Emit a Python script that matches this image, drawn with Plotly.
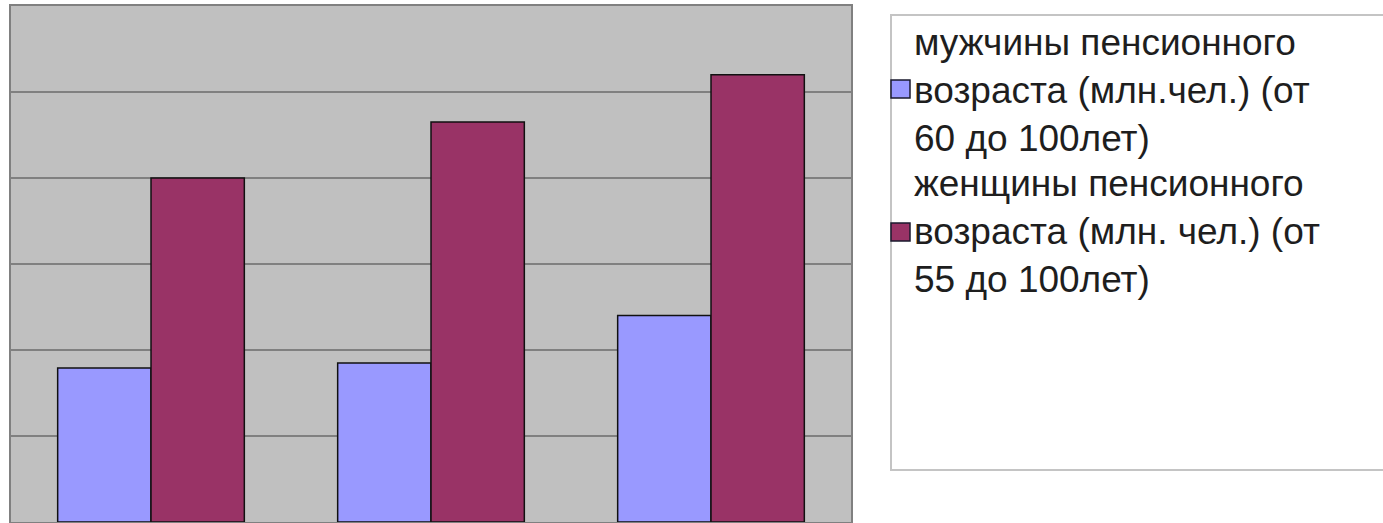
import plotly.graph_objects as go

# Data
categories = ["I", "II", "III"]
men_values = [8.95, 9.25, 12.0]
women_values = [20.0, 23.25, 26.0]
series_names = [
    "мужчины пенсионного<br>возраста (млн.чел.) (от<br>60 до 100лет)",
    "женщины пенсионного<br>возраста (млн. чел.) (от<br>55 до 100лет)",
]
series_colors = ["#9999FF", "#993366"]

W, H = 1383, 523
L, R, T, B = 11, 532, 6, 1
plot_w = W - L - R
plot_h = H - T - B


def px_to_paper_x(px):
    return (px - L) / plot_w


def px_to_paper_y(py):
    return (H - B - py) / plot_h


fig = go.Figure()
for name, vals, col in zip(series_names, [men_values, women_values], series_colors):
    fig.add_trace(go.Bar(
        x=categories, y=vals, name=name, showlegend=False,
        marker=dict(color=col, line=dict(color="#111111", width=1.5)),
    ))

# legend frame
fig.add_shape(
    type="rect", xref="paper", yref="paper",
    x0=px_to_paper_x(891), x1=px_to_paper_x(1395),
    y0=px_to_paper_y(470), y1=px_to_paper_y(15),
    line=dict(color="#c4c4c4", width=2), fillcolor="white", layer="below",
)

# legend entries: swatch + wrapped label, one entry per series
entry_centers = [89, 232]
for name, col, cy in zip(series_names, series_colors, entry_centers):
    fig.add_shape(
        type="rect", xref="paper", yref="paper",
        x0=px_to_paper_x(891), x1=px_to_paper_x(910),
        y0=px_to_paper_y(cy + 9), y1=px_to_paper_y(cy - 9),
        line=dict(color="#1a1a2e", width=1.5), fillcolor=col,
    )
    fig.add_annotation(
        xref="paper", yref="paper",
        x=px_to_paper_x(913), y=px_to_paper_y(cy + (2 if cy < 150 else -1)),
        xanchor="left", yanchor="middle", align="left",
        text=name, showarrow=False,
        font=dict(size=37, color="#1e1e1e"),
        borderpad=0,
    )

fig.update_layout(
    width=W, height=H,
    margin=dict(l=L, r=R, t=T, b=B, pad=0),
    paper_bgcolor="white",
    plot_bgcolor="#C0C0C0",
    barmode="group",
    bargap=1 / 3,
    bargroupgap=0,
    font=dict(family="Liberation Sans, Arial, sans-serif", color="#222222"),
    showlegend=False,
)
fig.update_xaxes(
    showticklabels=False, ticks="", showgrid=False,
    showline=True, linecolor="#808080", linewidth=2, mirror=True,
)
fig.update_yaxes(
    range=[0, 30], dtick=5, showticklabels=False, ticks="",
    showgrid=True, gridcolor="#808080", gridwidth=2,
    zeroline=False,
    showline=True, linecolor="#808080", linewidth=2, mirror=True,
)

fig.write_html("out.html")
